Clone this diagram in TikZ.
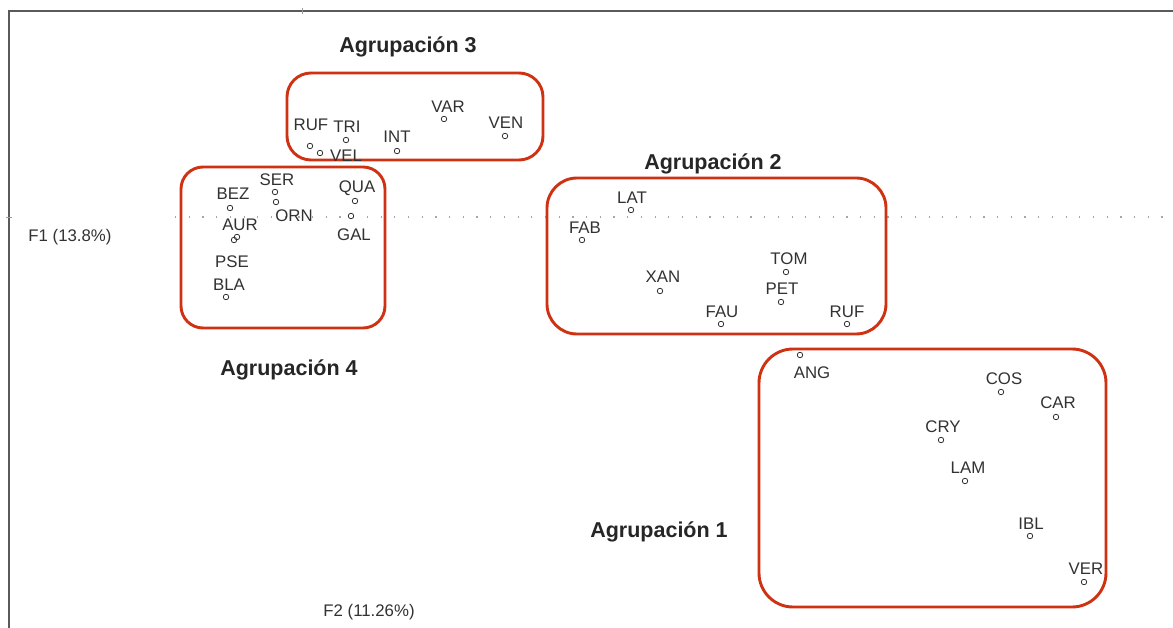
\documentclass[tikz,border=0pt]{standalone}
\usepackage{fontspec}
\setmainfont{Liberation Sans}
\definecolor{boxred}{RGB}{206,50,18}
\definecolor{framegray}{RGB}{90,90,90}
\definecolor{lblgray}{RGB}{50,50,50}
\begin{document}
\begin{tikzpicture}[x=1pt,y=-1pt,
  grp/.style={draw=boxred,line width=2.9pt,rounded corners=#1},
  lbl/.style={inner sep=0pt,text=lblgray,font=\fontsize{16.8}{17}\selectfont},
  ttl/.style={inner sep=0pt,text=black!85,font=\fontsize{21.5}{22}\selectfont\bfseries},
  pt/.style={circle,draw=lblgray,line width=0.8pt,inner sep=0pt,minimum size=5.5pt}]
\useasboundingbox (0,0) rectangle (1173,628);
\fill[white] (0,0) rectangle (1173,628);
% frame
\draw[framegray,line width=1.3pt] (9,628) -- (9,11) -- (1173,11);
\draw[framegray!60,line width=0.8pt] (302,8) -- (302,14);
\draw[framegray!60,line width=0.8pt] (6,217) -- (12,217);
% dotted axis
\draw[gray!70,line width=1.2pt,dash pattern=on 1.2pt off 12.5pt] (175,217) -- (1173,217);
% groups
\draw[grp=24pt] (287,73) rectangle (543,160);
\draw[grp=22pt] (181,167) rectangle (385,328);
\draw[grp=30pt] (547,178) rectangle (886,334);
\draw[grp=34pt] (759,349) rectangle (1106,607);
% titles
\node[ttl] (t3) at (408,47) {Agrupación 3};
\node[ttl] (t2) at (713,164) {Agrupación 2};
\node[ttl] (t4) at (289,370) {Agrupación 4};
\node[ttl] (t1) at (659,532) {Agrupación 1};
% axis labels
\node[lbl] (f1) at (70,237) {F1 (13.8\%)};
\node[lbl] (f2) at (369,612) {F2 (11.26\%)};
% group 3
\node[pt] (pruf3) at (310,146) {}; \node[lbl] (lruf3) at (311,125) {RUF};
\node[pt] (pvel) at (320,153) {};  \node[lbl] (lvel) at (346,156) {VEL};
\node[pt] (ptri) at (346,140) {};  \node[lbl] (ltri) at (347,127) {TRI};
\node[pt] (pint) at (397,151) {};  \node[lbl] (lint) at (397,137) {INT};
\node[pt] (pvar) at (444,119) {};  \node[lbl] (lvar) at (448,107) {VAR};
\node[pt] (pven) at (505,136) {};  \node[lbl] (lven) at (506,123) {VEN};
% group 4
\node[lbl] (lser) at (277,180) {SER};
\node[pt] (pser) at (275,192) {}; \node[pt] (porn) at (276,202) {};
\node[lbl] (lorn) at (294,216) {ORN};
\node[lbl] (lbez) at (233,194) {BEZ}; \node[pt] (pbez) at (230,208) {};
\node[lbl] (lqua) at (357,188) {QUA}; \node[pt] (pqua) at (355,201) {};
\node[pt] (pgal) at (351,216) {};  \node[lbl] (lgal) at (354,235) {GAL};
\node[lbl] (laur) at (240,225) {AUR};
\node[pt] (paur) at (237,237) {}; \node[pt] (ppse) at (234,240) {};
\node[lbl] (lpse) at (232,262) {PSE};
\node[lbl] (lbla) at (229,285) {BLA}; \node[pt] (pbla) at (226,297) {};
% group 2
\node[lbl] (llat) at (632,198) {LAT}; \node[pt] (plat) at (631,210) {};
\node[lbl] (lfab) at (585,228) {FAB}; \node[pt] (pfab) at (582,240) {};
\node[lbl] (lxan) at (663,277) {XAN}; \node[pt] (pxan) at (660,291) {};
\node[lbl] (ltom) at (789,259) {TOM}; \node[pt] (ptom) at (786,272) {};
\node[lbl] (lpet) at (782,289) {PET}; \node[pt] (ppet) at (781,302) {};
\node[lbl] (lfau) at (722,312) {FAU}; \node[pt] (pfau) at (721,324) {};
\node[lbl] (lruf2) at (847,312) {RUF}; \node[pt] (pruf2) at (847,324) {};
% group 1
\node[pt] (pang) at (800,355) {}; \node[lbl] (lang) at (812,373) {ANG};
\node[lbl] (lcos) at (1004,379) {COS}; \node[pt] (pcos) at (1001,392) {};
\node[lbl] (lcar) at (1058,403) {CAR}; \node[pt] (pcar) at (1056,417) {};
\node[lbl] (lcry) at (943,427) {CRY}; \node[pt] (pcry) at (941,440) {};
\node[lbl] (llam) at (968,468) {LAM}; \node[pt] (plam) at (965,481) {};
\node[lbl] (libl) at (1031,524) {IBL}; \node[pt] (pibl) at (1030,536) {};
\node[lbl] (lver) at (1086,569) {VER}; \node[pt] (pver) at (1084,582) {};
\end{tikzpicture}
\end{document}
